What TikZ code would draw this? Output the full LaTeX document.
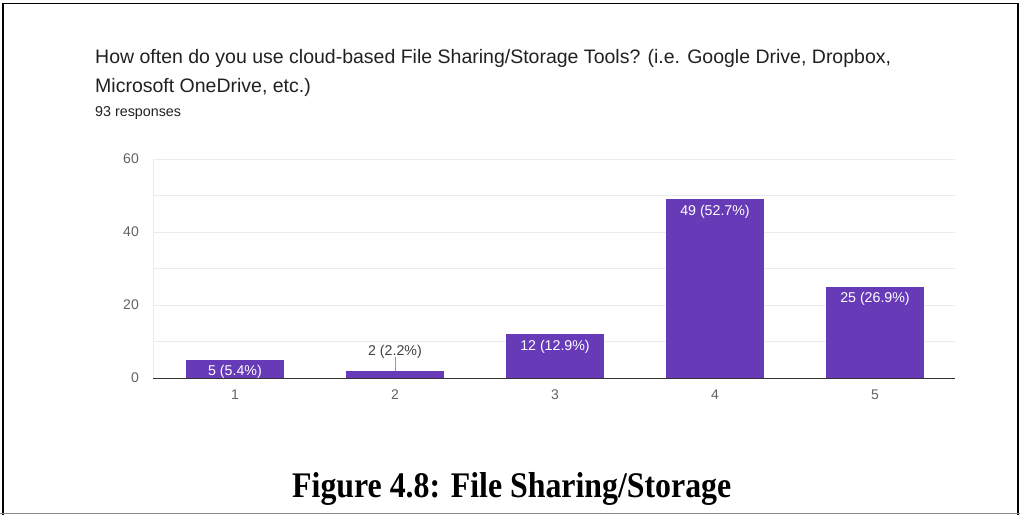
\documentclass[tikz,border=0pt]{standalone}
\usepackage{fontspec}
\usepackage{graphicx}
\newfontfamily\gsans{Liberation Sans}
\newfontfamily\tnr{Liberation Serif}
\definecolor{barpurple}{HTML}{673AB7}
\definecolor{gridgray}{HTML}{EBEBEB}
\definecolor{ticktext}{HTML}{5F6368}
\definecolor{titletext}{HTML}{202124}
\tikzset{
  bar/.style={fill=barpurple, draw=none},
  gridline/.style={draw=gridgray, line width=0.9pt},
  ticklbl/.style={font=\gsans\fontsize{14}{14}\selectfont, text=ticktext, inner sep=0pt},
  barlbl/.style={font=\gsans\fontsize{14.2}{14}\selectfont, text=white, inner sep=0pt},
  outlbl/.style={font=\gsans\fontsize{14.2}{14}\selectfont, text=black!75, inner sep=0pt},
  titlelbl/.style={font=\gsans\fontsize{19.5}{19.5}\selectfont, text=titletext, inner sep=0pt, anchor=base west},
}
\begin{document}
\begin{tikzpicture}[x=1pt,y=-1pt]
\useasboundingbox (0,0) rectangle (1020,515);
\fill[white] (0,0) rectangle (1020,515);
% frame
\draw[black, line width=1.8pt] (3,515) -- (3,3.5) -- (1018,3.5) -- (1018,515);
\draw[black!45, line width=1pt] (0,513) -- (1020,513);
% titles
\node[titlelbl] (t1) at (95,63) {How often do you use cloud-based File Sharing/Storage Tools? (i.e. Google Drive, Dropbox,};
\node[titlelbl] (t2) at (95,92) {Microsoft OneDrive, etc.)};
\node[titlelbl, font=\gsans\fontsize{14.3}{14}\selectfont] (t3) at (95,116) {93 responses};
% grid
\foreach \v in {10,20,30,40,50,60} {
  \draw[gridline] (153,{378-3.65*\v}) -- (955,{378-3.65*\v});
}
\draw[gridline] (153,159) -- (153,378);
% y tick labels
\foreach \v/\n in {0/y0,20/y20,40/y40,60/y60} {
  \node[ticklbl, anchor=east] (\n) at (139,{378-3.65*\v}) {\v};
}
% bars
\foreach \i/\val in {1/5,2/2,3/12,4/49,5/25} {
  \pgfmathsetmacro{\cx}{75+160*\i}
  \fill[bar] ({\cx-49},378) rectangle ({\cx+49},{378-3.65*\val});
  \coordinate (top\i) at (\cx,{378-3.65*\val});
  \node[ticklbl] (x\i) at (\cx,395) {\i};
}
% axis
\draw[black!80, line width=1pt] (153,378) -- (955,378);
% bar labels
\node[barlbl, anchor=base] (l1) at (235,375) {5 (5.4\%)};
\node[outlbl, anchor=base] (l2) at (395,355) {2 (2.2\%)};
\coordinate (l2b) at (395,357);
\draw[black!40, line width=0.6pt] (l2b) -- (top2);
\node[barlbl, anchor=base] (l3) at (555,350) {12 (12.9\%)};
\node[barlbl, anchor=base] (l4) at (715,215) {49 (52.7\%)};
\node[barlbl, anchor=base] (l5) at (875,302) {25 (26.9\%)};
% caption
\node[anchor=base west, inner sep=0pt] (cap) at (292,497) {\resizebox{439pt}{25pt}{\tnr\bfseries Figure 4.8: File Sharing/Storage}};
\end{tikzpicture}
\end{document}
